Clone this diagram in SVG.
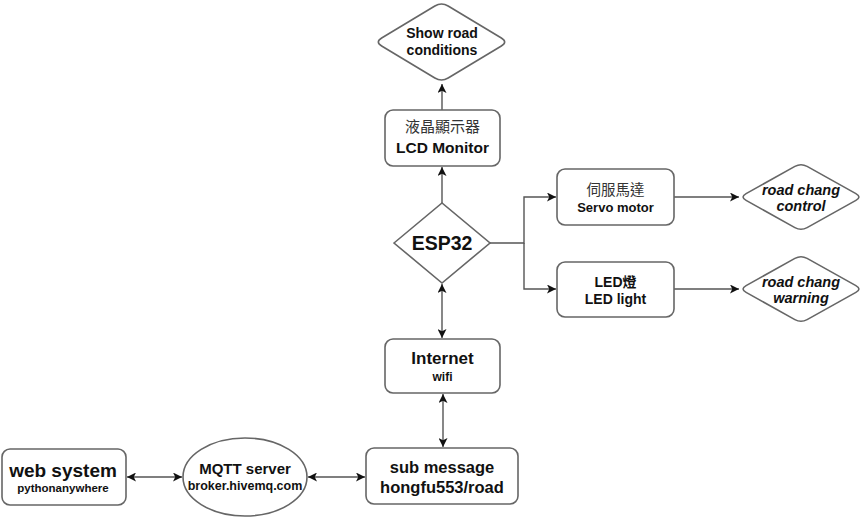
<svg xmlns="http://www.w3.org/2000/svg" width="866" height="519" viewBox="0 0 866 519">
<defs>
<marker id="arr" viewBox="0 0 10 10" refX="10" refY="5" markerWidth="9" markerHeight="9" markerUnits="userSpaceOnUse" orient="auto-start-reverse">
<path d="M0,0 L10,5 L0,10 L2.5,5 Z" fill="#111"/>
</marker>
</defs>
<style>
.shape{fill:#fff;stroke:#666;stroke-width:1.6}
.edge{fill:none;stroke:#555;stroke-width:1.4}
text{font-family:"Liberation Sans",Arial,"Noto Sans CJK TC",sans-serif;fill:#111;text-anchor:middle;font-weight:bold}
.cjk{font-family:"Noto Sans CJK TC","Liberation Sans",sans-serif;font-weight:normal;fill:#333}
.it{font-style:italic}
</style>
<rect width="866" height="519" fill="#fff"/>
<g id="connectors">
<path class="edge" d="M442,110 L442,84" marker-end="url(#arr)"/>
<path class="edge" d="M442,203 L442,167" marker-end="url(#arr)"/>
<path class="edge" d="M442,284 L442,338" marker-start="url(#arr)" marker-end="url(#arr)"/>
<path class="edge" d="M443,394 L443,447" marker-start="url(#arr)" marker-end="url(#arr)"/>
<path class="edge" d="M490,243 L524,243 L524,197 L556,197" marker-end="url(#arr)"/>
<path class="edge" d="M524,243 L524,289 L556,289" marker-end="url(#arr)"/>
<path class="edge" d="M674,197 L739,197" marker-end="url(#arr)"/>
<path class="edge" d="M674,289 L739,289" marker-end="url(#arr)"/>
<path class="edge" d="M127,477 L182,477" marker-start="url(#arr)" marker-end="url(#arr)"/>
<path class="edge" d="M308,477 L365,477" marker-start="url(#arr)" marker-end="url(#arr)"/>
</g>
<g id="show">
<path class="shape" d="M381.65,38 L434.85,6 Q441.5,2 448.15,6 L501.35,38 Q508,42 501.35,46 L448.15,78 Q441.5,82 434.85,78 L381.65,46 Q375,42 381.65,38 Z"/>
<text x="442" y="38" font-size="14">Show road</text>
<text x="442" y="55" font-size="14">conditions</text>
</g>
<g id="lcd">
<rect class="shape" x="385" y="110" width="115" height="56" rx="8"/>
<text class="cjk" x="442.5" y="132" font-size="15">液晶顯示器</text>
<text x="442.5" y="153" font-size="15.5">LCD Monitor</text>
</g>
<g id="esp32">
<path class="shape" d="M394,243 L442,203 L490,243 L442,283 Z"/>
<text x="442" y="250" font-size="19.5">ESP32</text>
</g>
<g id="servo">
<rect class="shape" x="557" y="169" width="117" height="56" rx="8"/>
<text class="cjk" x="615.5" y="195" font-size="14.5">伺服馬達</text>
<text x="615.5" y="212" font-size="13">Servo motor</text>
</g>
<g id="led">
<rect class="shape" x="557" y="262" width="117" height="55" rx="8"/>
<text x="615.5" y="287" font-size="14">LED燈</text>
<text x="615.5" y="304" font-size="14">LED light</text>
</g>
<g id="control">
<path class="shape" d="M746.1,193.6 L794.9,166.4 Q801,163 807.1,166.4 L855.9,193.6 Q862,197 855.9,200.4 L807.1,227.6 Q801,231 794.9,227.6 L746.1,200.4 Q740,197 746.1,193.6 Z"/>
<text class="it" x="801" y="195" font-size="14.5">road chang</text>
<text class="it" x="801" y="211" font-size="14.5">control</text>
</g>
<g id="warning">
<path class="shape" d="M746.1,285.6 L794.9,258.4 Q801,255 807.1,258.4 L855.9,285.6 Q862,289 855.9,292.4 L807.1,319.6 Q801,323 794.9,319.6 L746.1,292.4 Q740,289 746.1,285.6 Z"/>
<text class="it" x="801" y="287" font-size="14.5">road chang</text>
<text class="it" x="801" y="303" font-size="14.5">warning</text>
</g>
<g id="internet">
<rect class="shape" x="385" y="339" width="115" height="54" rx="8"/>
<text x="442.5" y="364" font-size="17">Internet</text>
<text x="442.5" y="381" font-size="12">wifi</text>
</g>
<g id="sub">
<rect class="shape" x="366" y="448" width="152" height="56" rx="8"/>
<text x="442" y="473" font-size="16.5">sub message</text>
<text x="442" y="493" font-size="16.5">hongfu553/road</text>
</g>
<g id="mqtt">
<ellipse class="shape" cx="245" cy="477" rx="62" ry="39"/>
<text x="245" y="474" font-size="15">MQTT server</text>
<text x="245" y="490" font-size="12.5">broker.hivemq.com</text>
</g>
<g id="web">
<rect class="shape" x="2" y="449" width="124" height="56" rx="8"/>
<text x="63" y="477" font-size="19">web system</text>
<text x="63" y="492" font-size="11.5">pythonanywhere</text>
</g>
</svg>
